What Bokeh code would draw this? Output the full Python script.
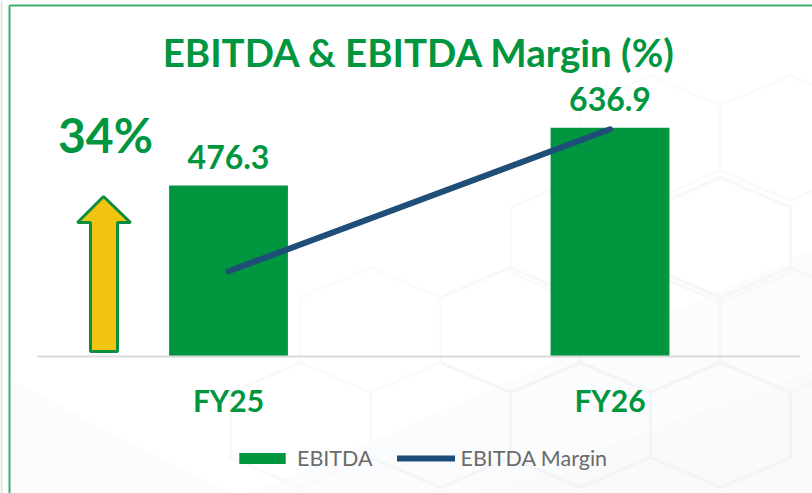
from bokeh.plotting import figure
from bokeh.models import (Range1d, FixedTicker, Legend, LegendItem, Label,
                          PolyAnnotation, ColumnDataSource)
from bokeh.core.properties import value
from bokeh.embed import file_html
from bokeh.resources import INLINE

categories = ["FY25", "FY26"]
category_pos = [0, 1]
ebitda = [476.3, 636.9]
ebitda_labels = ["476.3", "636.9"]
margin = [18.0, 22.0]
growth_label = "34%"
title_text = "EBITDA & EBITDA Margin (%)"

GREEN = "#009640"
NAVY = "#1F4E79"
FONT = "Lato"

W, H = 812, 493
X0, DX = 228, 381.5    # pixel of first category, pixels between categories
BASE, SCALE = 356, 0.359  # pixel of the zero line, pixels per EBITDA unit

p = figure(width=W, height=H,
           x_range=Range1d(-X0 / DX, (W - X0) / DX),
           y_range=Range1d((BASE - H) / SCALE, BASE / SCALE),
           output_backend="svg", toolbar_location=None,
           min_border=0, min_border_left=0, min_border_right=0, min_border_top=0, min_border_bottom=0)
p.styles = {"position": "absolute", "left": "0", "top": "0"}
p.outline_line_color = None
p.grid.visible = False
p.yaxis.visible = False
p.background_fill_color = "white"
p.border_fill_color = "white"
p.extra_y_ranges = {"margin": Range1d(15.6 - (H - BASE) / 35.5, 15.6 + BASE / 35.5)}

ax = p.xaxis[0]
ax.fixed_location = 0
ax.bounds = ((37 - X0) / DX, (800 - X0) / DX)
ax.ticker = FixedTicker(ticks=category_pos)
ax.major_label_overrides = dict(zip(category_pos, categories))
ax.axis_line_color = "#D9D9D9"
ax.axis_line_width = 2
ax.major_tick_line_color = None
ax.minor_tick_line_color = None
ax.major_label_text_font = FONT
ax.major_label_text_font_style = "bold"
ax.major_label_text_font_size = "30px"
ax.major_label_text_color = GREEN
ax.major_label_standoff = 19


def flip(ys):
    return [H - y for y in ys]


def poly(xs, ys, **kw):
    p.add_layout(PolyAnnotation(xs=xs, ys=flip(ys), xs_units="screen", ys_units="screen", **kw))


# tint in the lower part of the page
poly([380, 812, 812, 250], [493, 493, 250, 493], fill_color="#EFF5F7", fill_alpha=0.25,
     line_alpha=0, level="underlay")
poly([380, 812, 812, 480], [493, 493, 370, 493], fill_color="#EFF5F7", fill_alpha=0.25,
     line_alpha=0, level="underlay")
poly([10, 230, 10], [493, 493, 380], fill_color="#F2F3E6", fill_alpha=0.2, line_alpha=0,
     level="underlay")


# faint honeycomb backdrop
def hexagon(cx, peak, half=70, shoulder=30, side=65):
    xs = [cx, cx + half, cx + half, cx, cx - half, cx - half]
    ys = [peak, peak + shoulder, peak + shoulder + side, peak + 2 * shoulder + side,
          peak + shoulder + side, peak + shoulder]
    return xs, ys


for cx, peak, col in [(720, 177, "#F7F8F9"), (580, 177, "#F9FAFA"), (510, 267, "#F7F8F9"),
                      (650, 267, "#F5F6F7"), (790, 267, "#F5F6F7"), (440, 362, "#F4F5F6"),
                      (580, 362, "#F2F4F5"), (720, 362, "#F2F4F5"), (300, 362, "#F8F9F9"),
                      (370, 267, "#FBFBFB"), (650, 75, "#FBFBFB"), (790, 75, "#FAFAFA")]:
    xs, ys = hexagon(cx, peak)
    poly(xs, ys, fill_alpha=0, line_color=col, line_width=3, line_alpha=1, level="underlay")

# panel frame
for xs, ys, col in [([9, 9], [5, 493], "#3DAE6B"), ([9, 812], [5, 5], "#3DAE6B"),
                    ([1, 1], [0, 493], "#CFEBD9")]:
    poly(xs, ys, fill_alpha=0, line_color=col, line_width=2, line_alpha=1, level="underlay")

src = ColumnDataSource(dict(cat=category_pos, ebitda=ebitda, label=ebitda_labels, margin=margin))
bars = p.vbar(x="cat", top="ebitda", width=0.3115, source=src, fill_color=GREEN, line_color=None)
line = p.line(x="cat", y="margin", source=src, y_range_name="margin", line_color=NAVY,
              line_width=6, line_cap="round")
p.text(x="cat", y="ebitda", text="label", source=src, text_color=GREEN, text_align="center",
       text_baseline="bottom", text_font=value(FONT), text_font_style="bold",
       text_font_size="32px", y_offset=-17)

p.add_layout(Label(x=419, y=H - 51, x_units="screen", y_units="screen", text=title_text,
                   text_color=GREEN, text_font=FONT, text_font_style="bold",
                   text_font_size="38.5px", text_align="center", text_baseline="middle"))
p.add_layout(Label(x=105, y=H - 134, x_units="screen", y_units="screen", text=growth_label,
                   text_color=GREEN, text_font=FONT, text_font_style="bold",
                   text_font_size="48px", text_align="center", text_baseline="middle"))

# growth arrow
poly([103, 130, 117, 117, 90, 90, 77], [196, 222, 222, 351, 351, 222, 222],
     fill_color="#F1C40F", fill_alpha=1, line_color="#0B8E3E", line_width=3, line_alpha=1)

legend = Legend(items=[LegendItem(label="EBITDA", renderers=[bars]),
                       LegendItem(label="EBITDA Margin", renderers=[line])],
                orientation="horizontal", location=(233, 22), background_fill_alpha=0,
                border_line_color=None, glyph_width=58, glyph_height=14, label_standoff=6,
                spacing=24, margin=0, padding=0, label_text_font=FONT,
                label_text_font_size="21.5px", label_text_color="#6B6B6B")
p.add_layout(legend, "center")

open("out.html", "w").write(file_html(p, INLINE))
